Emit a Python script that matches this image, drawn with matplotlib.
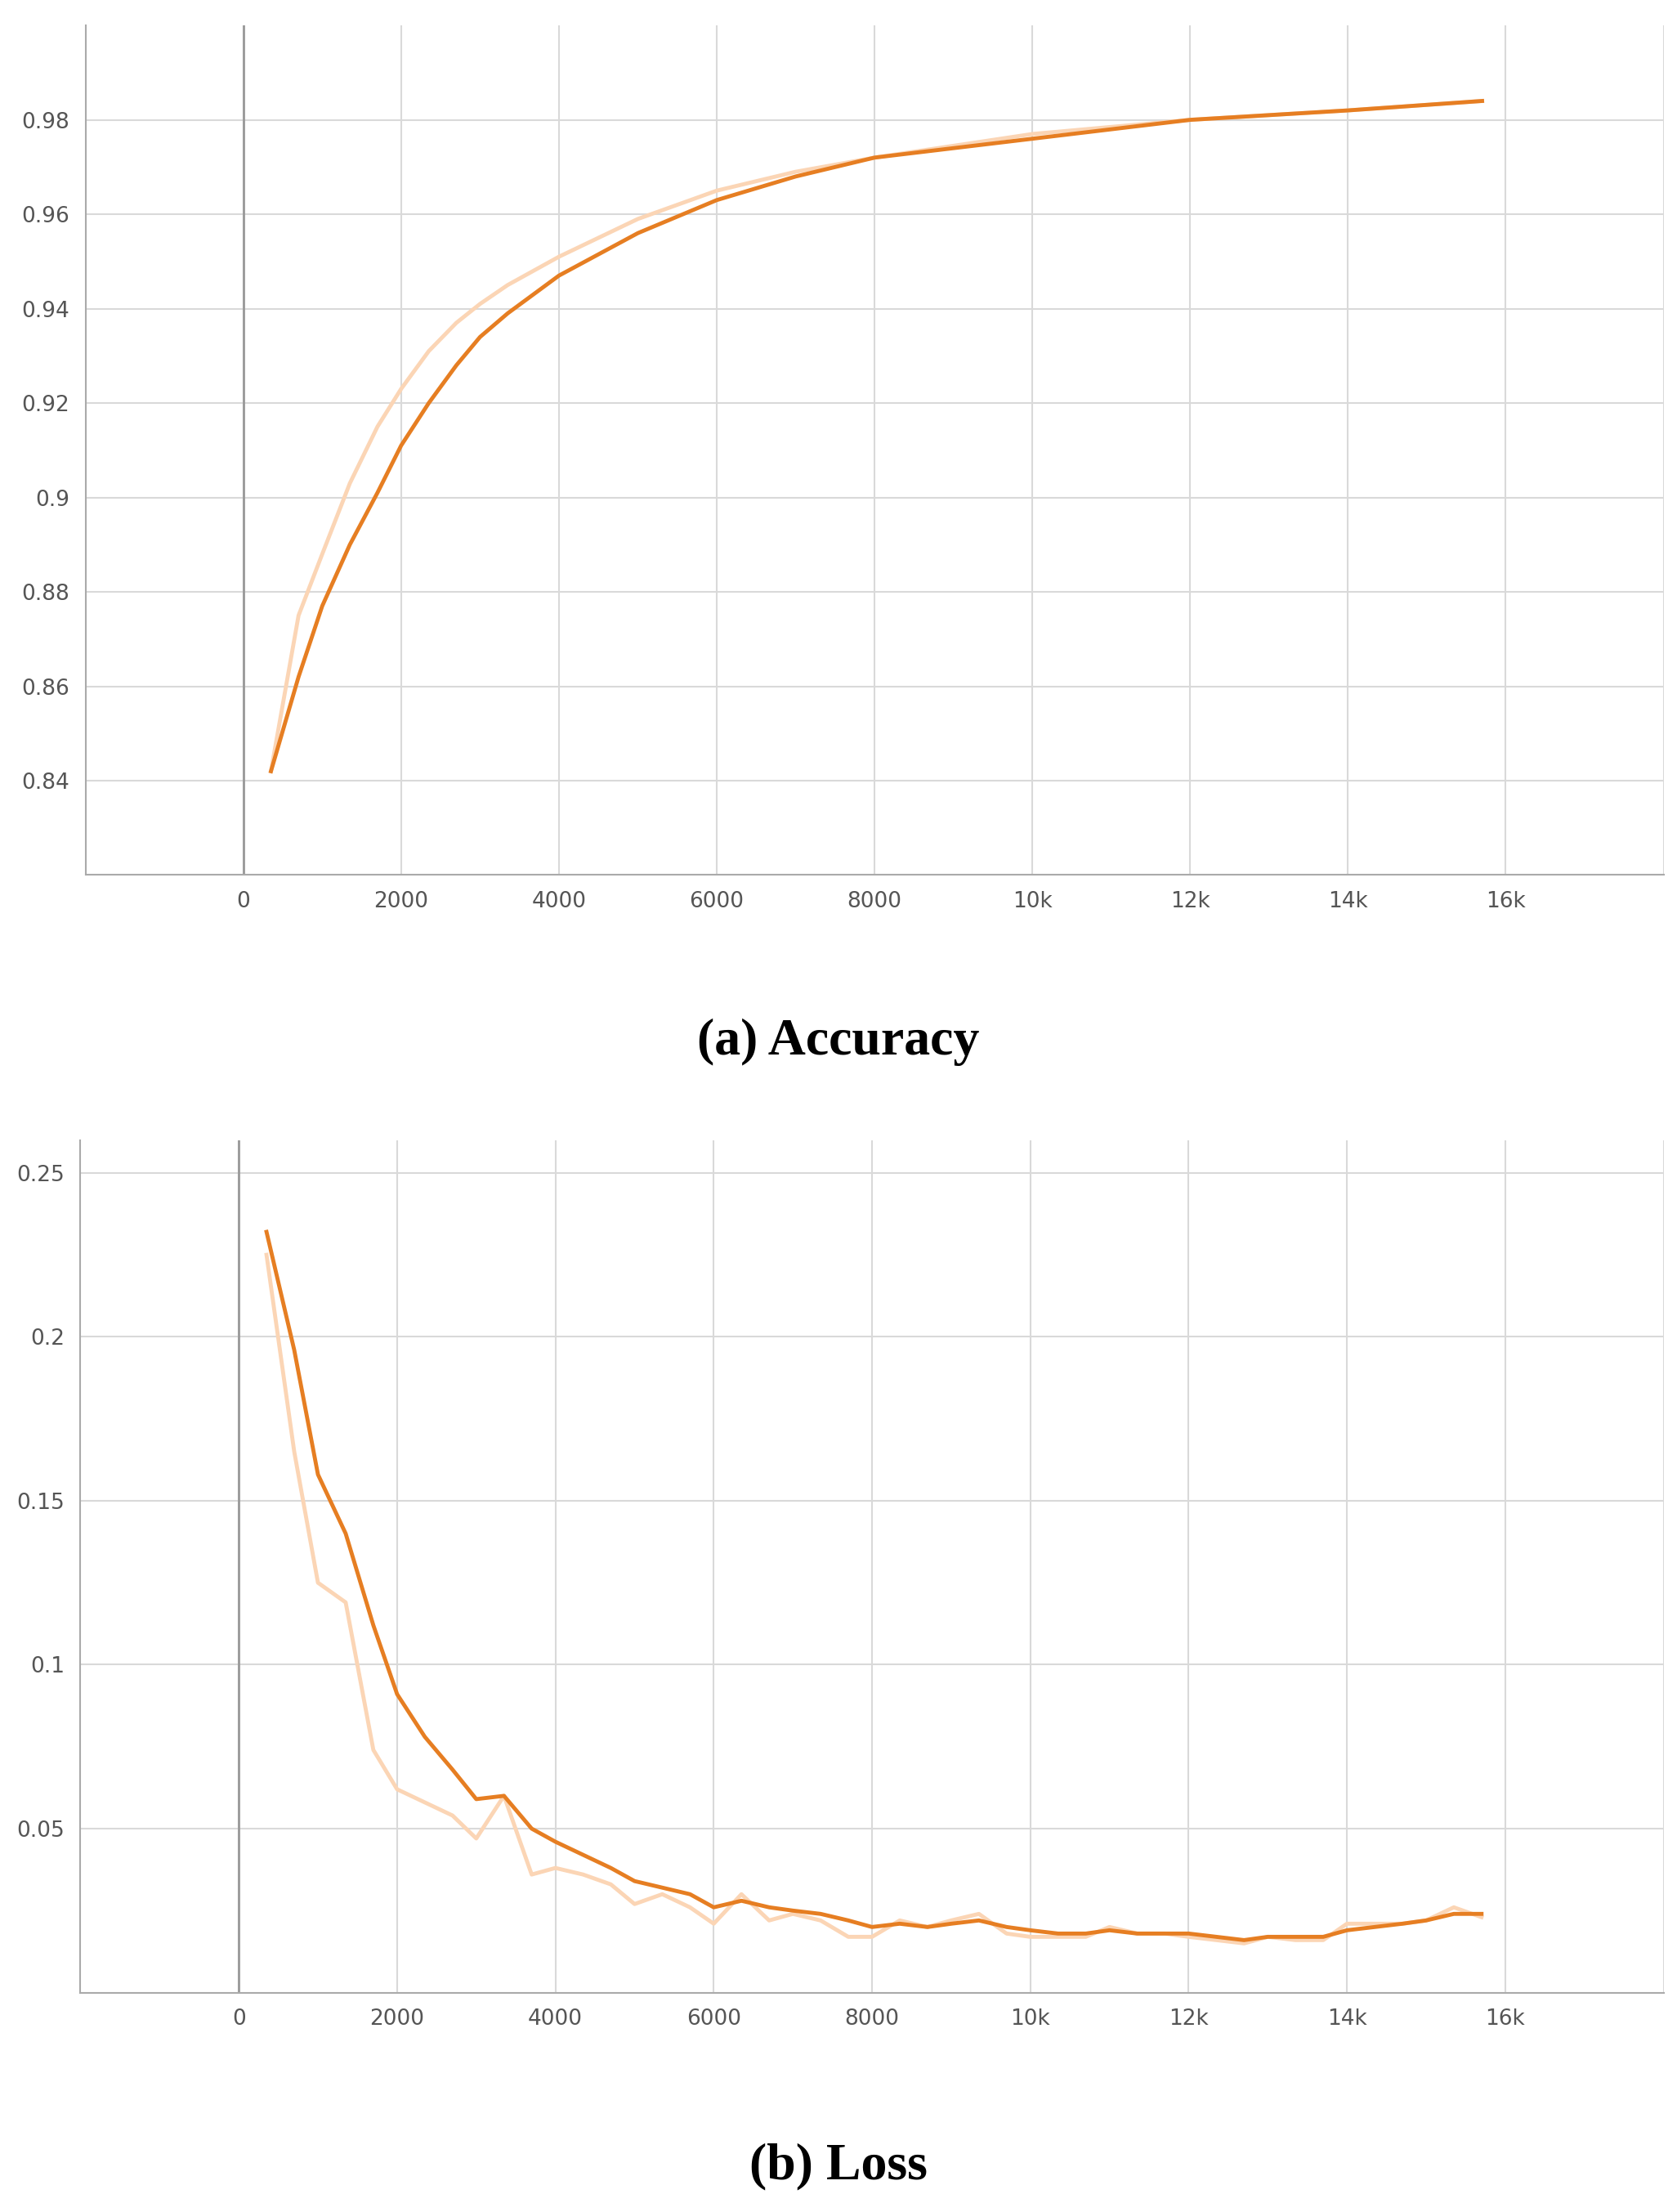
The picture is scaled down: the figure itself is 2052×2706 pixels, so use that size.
import matplotlib
matplotlib.use("Agg")
import matplotlib.pyplot as plt

# accuracy curves (step, value)
acc_x = [350, 700, 1000, 1350, 1700, 2000, 2350, 2700, 3000, 3350, 4000, 5000, 6000, 7000, 8000, 10000, 12000, 14000, 15700]
acc_smooth = [0.842, 0.862, 0.877, 0.890, 0.901, 0.911, 0.920, 0.928, 0.934, 0.939, 0.947, 0.956, 0.963, 0.968, 0.972, 0.976, 0.980, 0.982, 0.984]
acc_raw = [0.842, 0.875, 0.888, 0.903, 0.915, 0.923, 0.931, 0.937, 0.941, 0.945, 0.951, 0.959, 0.965, 0.969, 0.972, 0.977, 0.980, 0.982, 0.984]

# loss curves
loss_x = [350, 700, 1000, 1350, 1700, 2000, 2350, 2700, 3000, 3350, 3700, 4000, 4350, 4700, 5000, 5350,
          5700, 6000, 6350, 6700, 7000, 7350, 7700, 8000, 8350, 8700, 9000, 9350, 9700, 10000, 10350,
          10700, 11000, 11350, 11700, 12000, 12350, 12700, 13000, 13350, 13700, 14000, 14350, 14700,
          15000, 15350, 15700]
loss_smooth = [0.232, 0.196, 0.158, 0.140, 0.112, 0.091, 0.078, 0.068, 0.059, 0.060, 0.050, 0.046, 0.042,
               0.038, 0.034, 0.032, 0.030, 0.026, 0.028, 0.026, 0.025, 0.024, 0.022, 0.020, 0.021, 0.020,
               0.021, 0.022, 0.020, 0.019, 0.018, 0.018, 0.019, 0.018, 0.018, 0.018, 0.017, 0.016, 0.017,
               0.017, 0.017, 0.019, 0.020, 0.021, 0.022, 0.024, 0.024]
loss_raw = [0.225, 0.165, 0.125, 0.119, 0.074, 0.062, 0.058, 0.054, 0.047, 0.060, 0.036, 0.038, 0.036,
            0.033, 0.027, 0.030, 0.026, 0.021, 0.030, 0.022, 0.024, 0.022, 0.017, 0.017, 0.022, 0.020,
            0.022, 0.024, 0.018, 0.017, 0.017, 0.017, 0.020, 0.018, 0.018, 0.017, 0.016, 0.015, 0.017,
            0.016, 0.016, 0.021, 0.021, 0.021, 0.022, 0.026, 0.023]

x_ticks = [0, 2000, 4000, 6000, 8000, 10000, 12000, 14000, 16000]
x_labels = ["0", "2000", "4000", "6000", "8000", "10k", "12k", "14k", "16k"]

DARK, LIGHT = "#e67e22", "#fbd5b5"
GRID, TXT = "#d9d9d9", "#555555"


def style(ax, yticks, ylabels, ylim):
    ax.set_xlim(-2000, 18000); ax.set_ylim(*ylim)
    ax.set_xticks(x_ticks + [18000]); ax.set_xticklabels(x_labels + [""])
    ax.set_yticks(yticks); ax.set_yticklabels(ylabels)
    ax.grid(True, color=GRID, lw=1.5)
    ax.axvline(0, color="#999999", lw=2)
    for s in ["top", "right"]: ax.spines[s].set_visible(False)
    for s in ["left", "bottom"]: ax.spines[s].set_color("#aaaaaa"); ax.spines[s].set_linewidth(1.5)
    ax.tick_params(length=0, labelsize=19, colors=TXT, pad=14)


fig = plt.figure(figsize=(20.52, 27.06), dpi=100, facecolor="white")

ax1 = fig.add_axes([0.051, 0.6044, 0.941, 0.3841])
ax1.plot(acc_x, acc_raw, color=LIGHT, lw=3.5)
ax1.plot(acc_x, acc_smooth, color=DARK, lw=3.5)
yt = [0.84, 0.86, 0.88, 0.90, 0.92, 0.94, 0.96, 0.98]
style(ax1, yt, ["0.84", "0.86", "0.88", "0.9", "0.92", "0.94", "0.96", "0.98"], (0.82, 1.0))

ax2 = fig.add_axes([0.048, 0.0992, 0.944, 0.3854])
ax2.plot(loss_x, loss_raw, color=LIGHT, lw=3.5)
ax2.plot(loss_x, loss_smooth, color=DARK, lw=3.5)
style(ax2, [0.05, 0.1, 0.15, 0.2, 0.25], ["0.05", "0.1", "0.15", "0.2", "0.25"], (0.0, 0.26))

fig.text(0.5, 0.529, "(a) Accuracy", ha="center", va="center", fontsize=46,
         fontweight="bold", family=["Liberation Serif", "DejaVu Serif"])
fig.text(0.5, 0.0205, "(b) Loss", ha="center", va="center", fontsize=46,
         fontweight="bold", family=["Liberation Serif", "DejaVu Serif"])

fig.savefig("out.png", dpi=100, facecolor="white")
